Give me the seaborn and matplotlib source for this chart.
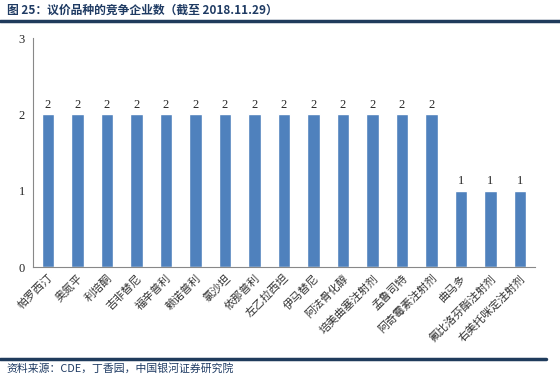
import matplotlib
matplotlib.use("Agg")
import matplotlib.pyplot as plt
import seaborn as sns
import numpy as np
import pandas as pd
from matplotlib.lines import Line2D

# data
drugs = ['帕罗西汀', '奥氮平', '利培酮', '吉非替尼', '福辛普利', '赖诺普利', '氯沙坦',
         '依那普利', '左乙拉西坦', '伊马替尼', '阿法骨化醇', '培美曲塞注射剂', '孟鲁司特',
         '阿奇霉素注射剂', '曲马多', '氟比洛芬酯注射剂', '右美托咪定注射剂']
counts = [2, 2, 2, 2, 2, 2, 2, 2, 2, 2, 2, 2, 2, 2, 1, 1, 1]
yticks = [0, 1, 2, 3]

df = pd.DataFrame({'drug': drugs, 'count': counts})

sns.set_style('white')
plt.rcParams['font.family'] = ['Noto Sans CJK SC', 'DejaVu Sans']

fig = plt.figure(figsize=(5.6, 3.81), dpi=100)
ax = fig.add_axes([0.059, 0.299, 0.896, 0.601])

sns.barplot(data=df, x='drug', y='count', color='#4F81BD', width=0.42, ax=ax,
            saturation=1)

ax.set_ylim(0, 3)
ax.set_xlim(-0.5, len(drugs) - 0.5)
ax.set_yticks(yticks)
ax.set_yticklabels([str(v) for v in yticks], family='Liberation Serif', fontsize=9)
ax.set_xlabel('')
ax.set_ylabel('')

ax.set_xticks(range(len(drugs)))
ax.set_xticklabels(drugs, rotation=45, ha='right', rotation_mode='anchor',
                   fontsize=8, color='#333333')
ax.tick_params(axis='x', which='major', length=0, pad=4)
ax.set_xticks(np.arange(-0.5, len(drugs)), minor=True)
ax.tick_params(axis='x', which='minor', length=4, color='#888888', direction='out')
ax.tick_params(axis='y', length=4, color='#888888', direction='out', pad=2)

for s in ['top', 'right']:
    ax.spines[s].set_visible(False)
for s in ['left', 'bottom']:
    ax.spines[s].set_color('#888888')
    ax.spines[s].set_linewidth(0.8)

for i, v in enumerate(counts):
    ax.text(i, v + 0.05, str(v), ha='center', va='bottom', fontsize=9,
            family='Liberation Serif')

fig.text(0.012, 0.972, '图 25：议价品种的竞争企业数（截至 2018.11.29）',
         fontsize=8.5, fontweight='bold', color='#1F3B63', va='center')
fig.add_artist(Line2D([0, 1], [0.945, 0.945], color='#1F3B5C', lw=2.5,
                      transform=fig.transFigure))
fig.add_artist(Line2D([0, 0.975], [0.058, 0.058], color='#1F3B5C', lw=2.5,
                      transform=fig.transFigure))
fig.text(0.012, 0.032, '资料来源：CDE，丁香园，中国银河证券研究院',
         fontsize=7.8, style='italic', color='#1F3B63', va='center')

fig.savefig('out.png', dpi=100)
